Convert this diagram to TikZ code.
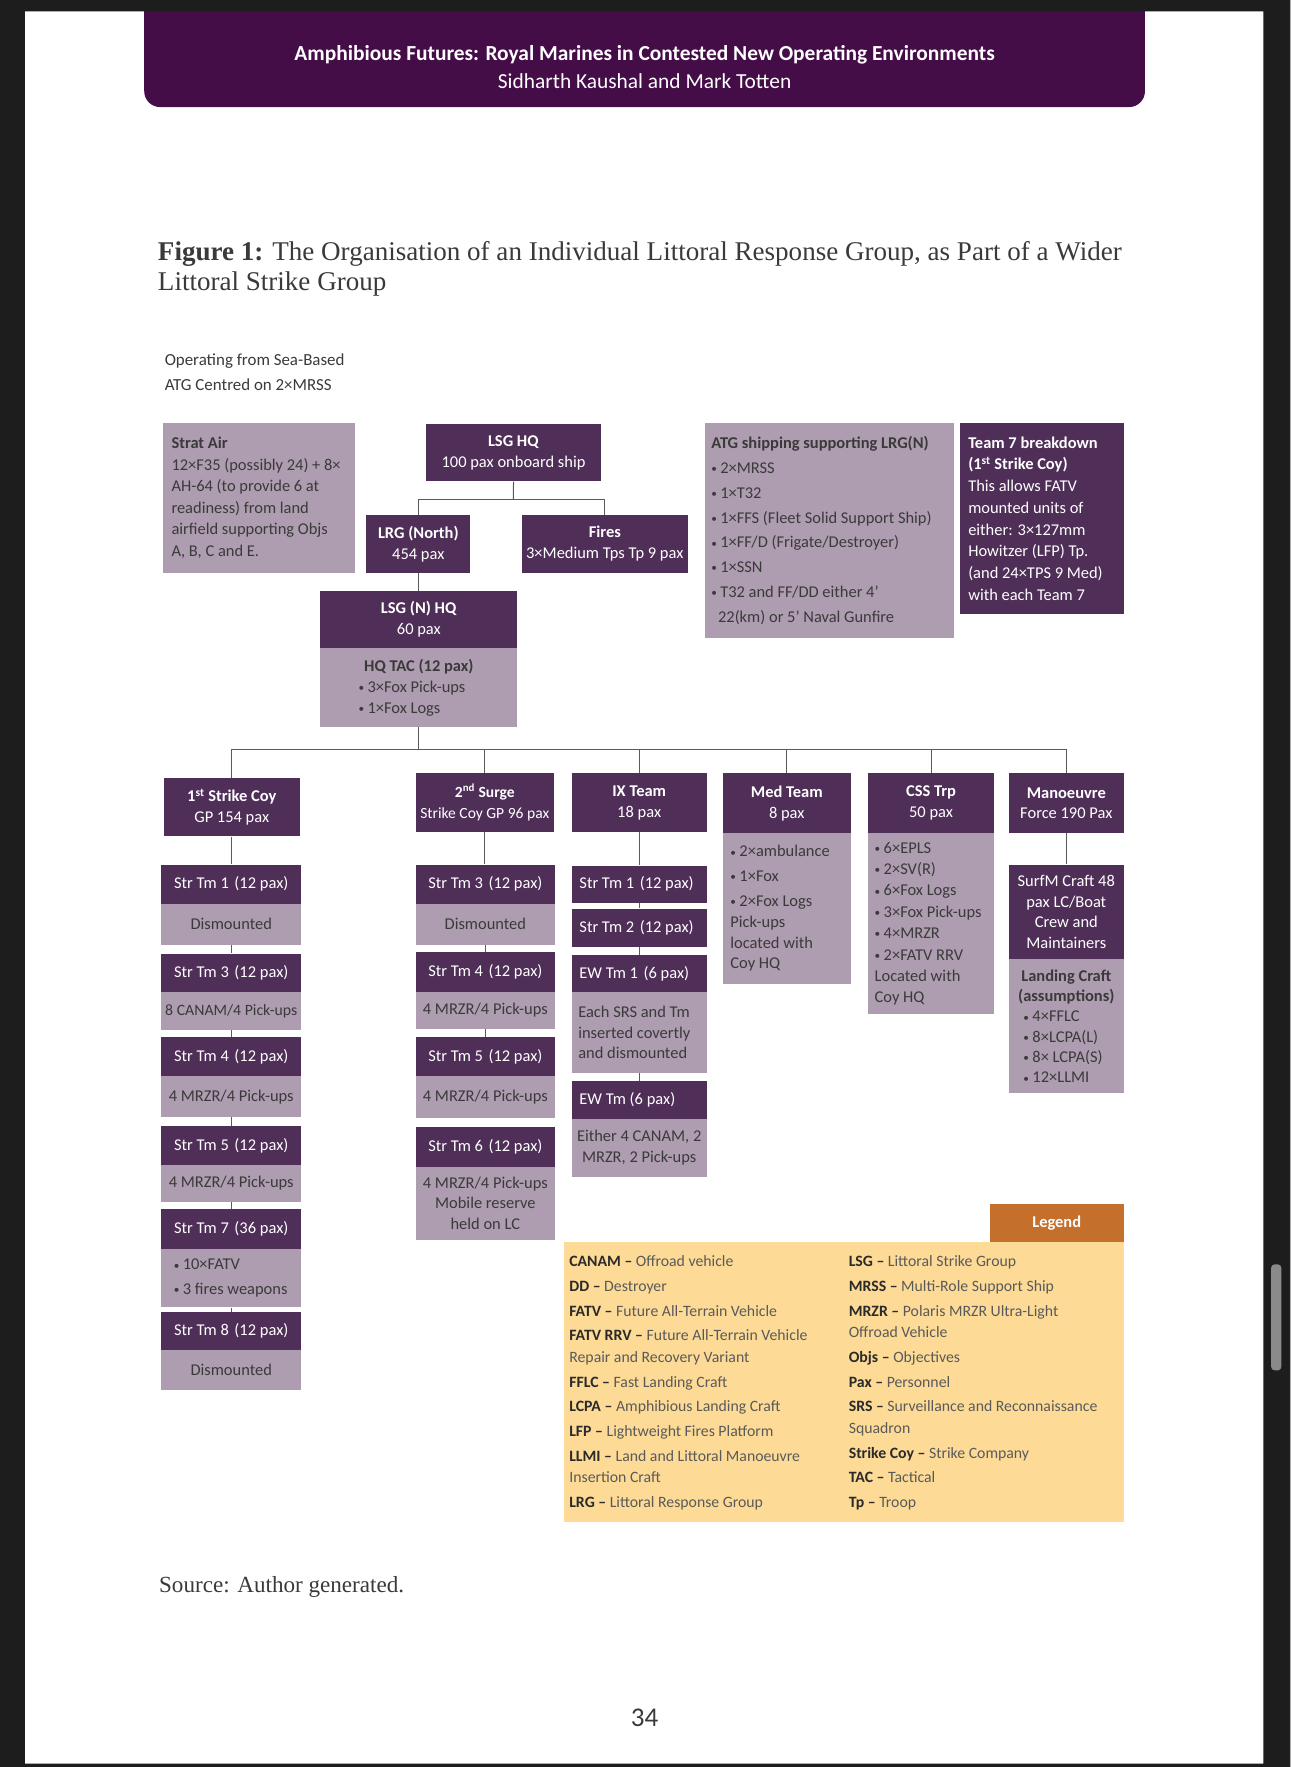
\documentclass[tikz,border=0pt]{standalone}
\usepackage{fontspec}
\setmainfont{Carlito}
\newfontfamily\capserif{Liberation Serif}
\usepackage{tikz}
\usetikzlibrary{positioning}

\definecolor{framedk}{HTML}{1D1D1D}
\definecolor{banner}{HTML}{450D48}
\definecolor{dkbox}{HTML}{4F2E58}
\definecolor{ltbox}{HTML}{AE9CB0}
\definecolor{boxtxt}{HTML}{3A3A3A}
\definecolor{linegrey}{HTML}{5A5A5A}
\definecolor{legbg}{HTML}{FDDB96}
\definecolor{leghd}{HTML}{C4702C}
\definecolor{legkey}{HTML}{2A2A2A}
\definecolor{legtxt}{HTML}{5A5A5A}
\definecolor{scrollgr}{HTML}{8A8A8A}

\newcommand\boxfont{\fontsize{14.6}{18.5}\selectfont}
\newcommand\strtm[2]{Str Tm #1\hspace{5pt}(#2 pax)}
\newcommand\bul{\raisebox{0.6pt}{\fontsize{10}{10}\selectfont\textbullet}\hspace{3pt}}
\newcommand\legitem[2]{{\color{legkey}\bfseries #1 –} #2}

\begin{document}
\begin{tikzpicture}[
    x=1pt, y=-1pt,
    dk/.style={fill=dkbox, text=white, font=\boxfont, align=center,
               inner sep=0pt, anchor=north west,
               execute at begin node={\spaceskip=0pt\xspaceskip=0pt\relax}},
    lt/.style={fill=ltbox, text=boxtxt, font=\boxfont, align=center,
               inner sep=0pt, anchor=north west,
               execute at begin node={\spaceskip=0pt\xspaceskip=0pt\relax}},
    sz/.style 2 args={minimum width=#1pt, minimum height=#2pt},
    conn/.style={draw=linegrey, line width=0.9pt},
    lbl/.style={inner sep=0pt, anchor=north west, align=left},
]
\useasboundingbox (0,0) rectangle (1145,1568);
\fill[white] (0,0) rectangle (1145,1568);
\fill[banner, rounded corners=14pt] (128,-20) rectangle (1016,95);
\fill[framedk, even odd rule] (0,0) rectangle (1145,1568) (22,10) rectangle (1121,1565);
\fill[scrollgr, rounded corners=3pt] (1128,1122) rectangle (1137,1216);

\node[text=white, font=\bfseries\fontsize{19}{22}\selectfont] (hdttl) at (572,49)
    {Amphibious Futures: Royal Marines in Contested New Operating Environments};
\node[text=white, font=\fontsize{19}{22}\selectfont] (hdaut) at (572,72)
    {Sidharth Kaushal and Mark Totten};
\node[lbl, text=boxtxt, font=\capserif\fontsize{24}{27}\selectfont] (figttl) at (140,214)
    {\textbf{Figure 1:} The Organisation of an Individual Littoral Response Group, as Part of a Wider\\Littoral Strike Group};
\node[lbl, text=boxtxt, font=\fontsize{15}{22}\selectfont] (opnote) at (146,314)
    {Operating from Sea-Based\\ATG Centred on 2×MRSS};

\node[lt, align=left, text width=155pt, inner xsep=8pt, minimum height=133pt,
      font=\fontsize{14.6}{19}\selectfont] (strat) at (144,375)
    {\textbf{Strat Air}\\12×F35 (possibly 24) + 8×\\AH-64 (to provide 6 at\\readiness) from land\\airfield supporting Objs\\A, B, C and E.};
\node[dk, sz={155}{51}] (lsghq) at (378,376) {\textbf{LSG HQ}\\100 pax onboard ship};
\node[dk, sz={92}{51}] (lrgn) at (325,457) {\textbf{LRG (North)}\\454 pax};
\node[dk, sz={147}{51}] (fires) at (463,457) {\textbf{Fires}\\3×Medium Tps Tp 9 pax};
\node[dk, sz={175}{51}] (lsgn) at (284,524) {\textbf{LSG (N) HQ}\\60 pax};
\node[lt, sz={175}{70}, align=left, text width=107pt, inner xsep=34pt] (hqtac) at (284,575)
    {\makebox[107pt][c]{\bfseries HQ TAC (12 pax)}\\\bul 3×Fox Pick-ups\\\bul 1×Fox Logs};
\node[lt, align=left, text width=209pt, inner xsep=6pt, minimum height=191pt,
      font=\fontsize{14.6}{22}\selectfont] (atg) at (625,375)
    {\textbf{ATG shipping supporting LRG(N)}\\\bul 2×MRSS\\\bul 1×T32\\\bul 1×FFS (Fleet Solid Support Ship)\\\bul 1×FF/D (Frigate/Destroyer)\\\bul 1×SSN\\\bul T32 and FF/DD either 4’\\\hspace*{6pt}22(km) or 5’ Naval Gunfire};
\node[dk, align=left, text width=131pt, inner xsep=7pt, minimum height=170pt,
      font=\fontsize{14.6}{19.3}\selectfont] (team7) at (852,375)
    {\textbf{Team 7 breakdown}\\\textbf{(1\textsuperscript{st} Strike Coy)}\\This allows FATV\\mounted units of\\either: 3×127mm\\Howitzer (LFP) Tp.\\(and 24×TPS 9 Med)\\with each Team 7};

\node[dk, sz={121}{52}] (sc1) at (145,690) {\textbf{1\textsuperscript{st} Strike Coy}\\GP 154 pax};
\node[dk, sz={122}{52}, font=\fontsize{13.8}{18.5}\selectfont] (surge) at (369,686)
    {\textbf{2\textsuperscript{nd} Surge}\\Strike Coy GP 96 pax};
\node[dk, sz={120}{52}] (ix) at (507,686) {\textbf{IX Team}\\18 pax};
\node[dk, sz={114}{53}] (med) at (641,686) {\textbf{Med Team}\\8 pax};
\node[dk, sz={112}{53}] (css) at (770,686) {\textbf{CSS Trp}\\50 pax};
\node[dk, sz={102}{53}] (man) at (895,686) {\textbf{Manoeuvre}\\Force 190 Pax};

\node[dk, sz={124}{35}] (sc1t1) at (143,767) {\strtm{1}{12}};
\node[lt, sz={124}{36}] (sc1d1) at (143,802) {Dismounted};
\node[dk, sz={124}{34}] (sc1t3) at (143,846) {\strtm{3}{12}};
\node[lt, sz={124}{34}, font=\fontsize{14}{18}\selectfont] (sc1d3) at (143,880) {8 CANAM/4 Pick-ups};
\node[dk, sz={124}{35}] (sc1t4) at (143,920) {\strtm{4}{12}};
\node[lt, sz={124}{36}] (sc1d4) at (143,955) {4 MRZR/4 Pick-ups};
\node[dk, sz={124}{35}] (sc1t5) at (143,999) {\strtm{5}{12}};
\node[lt, sz={124}{32}] (sc1d5) at (143,1034) {4 MRZR/4 Pick-ups};
\node[dk, sz={124}{35}] (sc1t7) at (143,1073) {\strtm{7}{36}};
\node[lt, sz={124}{52}, align=left, text width=102pt, inner xsep=11pt,
      font=\fontsize{14.6}{22}\selectfont] (sc1d7) at (143,1108)
    {\bul 10×FATV\\\bul 3 fires weapons};
\node[dk, sz={124}{34}] (sc1t8) at (143,1164) {\strtm{8}{12}};
\node[lt, sz={124}{35}] (sc1d8) at (143,1198) {Dismounted};

\node[dk, sz={123}{35}] (s2t3) at (369,767) {\strtm{3}{12}};
\node[lt, sz={123}{36}] (s2d3) at (369,802) {Dismounted};
\node[dk, sz={123}{35}] (s2t4) at (369,845) {\strtm{4}{12}};
\node[lt, sz={123}{33}] (s2d4) at (369,880) {4 MRZR/4 Pick-ups};
\node[dk, sz={123}{35}] (s2t5) at (369,920) {\strtm{5}{12}};
\node[lt, sz={123}{37}] (s2d5) at (369,955) {4 MRZR/4 Pick-ups};
\node[dk, sz={123}{35}] (s2t6) at (369,1000) {\strtm{6}{12}};
\node[lt, sz={123}{65}] (s2d6) at (369,1035) {4 MRZR/4 Pick-ups\\Mobile reserve\\held on LC};

\node[dk, sz={120}{33}, align=left, text width=106pt, inner xsep=7pt] (ixt1) at (507,768) {\strtm{1}{12}};
\node[dk, sz={120}{34}, align=left, text width=106pt, inner xsep=7pt] (ixt2) at (507,806) {\strtm{2}{12}};
\node[dk, sz={120}{33}, align=left, text width=106pt, inner xsep=7pt] (ixe1) at (507,847) {EW Tm 1\hspace{5pt}(6 pax)};
\node[lt, sz={120}{72}, align=left, text width=108pt, inner xsep=6pt] (ixd1) at (507,880)
    {Each SRS and Tm\\inserted covertly\\and dismounted};
\node[dk, sz={120}{34}, align=left, text width=106pt, inner xsep=7pt] (ixe2) at (507,959) {EW Tm (6 pax)};
\node[lt, sz={120}{51}] (ixd2) at (507,993) {Either 4 CANAM, 2\\MRZR, 2 Pick-ups};

\node[lt, sz={114}{134}, align=left, text width=100pt, inner xsep=7pt] (medx) at (641,739)
    {\bul 2×ambulance\\[3.5pt]\bul 1×Fox\\[3.5pt]\bul 2×Fox Logs\\Pick-ups\\located with\\Coy HQ};
\node[lt, sz={112}{161}, align=left, text width=100pt, inner xsep=6pt,
      font=\fontsize{14.6}{19}\selectfont] (cssx) at (770,739)
    {\bul 6×EPLS\\\bul 2×SV(R)\\\bul 6×Fox Logs\\\bul 3×Fox Pick-ups\\\bul 4×MRZR\\\bul 2×FATV RRV\\Located with\\Coy HQ};
\node[dk, sz={102}{84}] (manx) at (895,767) {SurfM Craft 48\\pax LC/Boat\\Crew and\\Maintainers};
\node[lt, sz={102}{119}, align=left, text width=76pt, inner xsep=13pt,
      font=\fontsize{14.6}{18}\selectfont] (mlc) at (895,851)
    {\makebox[76pt][c]{\bfseries Landing Craft}\\\makebox[76pt][c]{\bfseries (assumptions)}\\\bul 4×FFLC\\\bul 8×LCPA(L)\\\bul 8× LCPA(S)\\\bul 12×LLMI};

\coordinate (topbus) at (455.5,443);
\coordinate (busL) at (205,665);
\draw[conn] (lsghq.south) -- (topbus);
\draw[conn] (lrgn.north) |- (topbus) -| (fires.north);
\draw[conn] (lrgn.south) -- (lrgn.south |- lsgn.north);
\draw[conn] (hqtac.south) -- (hqtac.south |- busL);
\draw[conn] (sc1.north |- busL) -- (man.north |- busL);
\foreach \n in {sc1,surge,ix,med,css,man}
    \draw[conn] (\n.north) -- (\n.north |- busL);
\foreach \a/\b in {sc1/sc1t1, sc1d1/sc1t3, sc1d3/sc1t4, sc1d4/sc1t5, sc1d5/sc1t7, sc1d7/sc1t8,
                   surge/s2t3, s2d3/s2t4, s2d4/s2t5,
                   ix/ixt1, ixt1/ixt2, ixt2/ixe1, ixd1/ixe2, man/manx}
    \draw[conn] (\a.south) -- (\a.south |- \b.north);

\node[fill=leghd, text=white, font=\bfseries\fontsize{14.6}{18}\selectfont, sz={119}{34},
      inner sep=0pt, anchor=north west] (leghead) at (878,1068) {Legend};
\node[fill=legbg, sz={497}{248}, inner sep=0pt, anchor=north west] (legbox) at (500,1102) {};
\node[lbl, text=legtxt, font=\fontsize{14}{19}\selectfont] (legL) at (505,1114)
    {\legitem{CANAM}{Offroad vehicle}\\[3pt]
     \legitem{DD}{Destroyer}\\[3pt]
     \legitem{FATV}{Future All-Terrain Vehicle}\\[3pt]
     \legitem{FATV RRV}{Future All-Terrain Vehicle}\\
     Repair and Recovery Variant\\[3pt]
     \legitem{FFLC}{Fast Landing Craft}\\[3pt]
     \legitem{LCPA}{Amphibious Landing Craft}\\[3pt]
     \legitem{LFP}{Lightweight Fires Platform}\\[3pt]
     \legitem{LLMI}{Land and Littoral Manoeuvre}\\
     Insertion Craft\\[3pt]
     \legitem{LRG}{Littoral Response Group}};
\node[lbl, text=legtxt, font=\fontsize{14}{19}\selectfont] (legR) at (753,1114)
    {\legitem{LSG}{Littoral Strike Group}\\[3pt]
     \legitem{MRSS}{Multi-Role Support Ship}\\[3pt]
     \legitem{MRZR}{Polaris MRZR Ultra-Light}\\
     Offroad Vehicle\\[3pt]
     \legitem{Objs}{Objectives}\\[3pt]
     \legitem{Pax}{Personnel}\\[3pt]
     \legitem{SRS}{Surveillance and Reconnaissance}\\
     Squadron\\[3pt]
     \legitem{Strike Coy}{Strike Company}\\[3pt]
     \legitem{TAC}{Tactical}\\[3pt]
     \legitem{Tp}{Troop}};

\node[anchor=west, inner sep=0pt, text=boxtxt, font=\capserif\fontsize{20.5}{24}\selectfont] (srcnote) at (141,1408)
    {Source: Author generated.};
\node[inner sep=0pt, text=boxtxt, font=\fontsize{24}{28}\selectfont] (pgno) at (572,1524) {34};
\end{tikzpicture}
\end{document}
